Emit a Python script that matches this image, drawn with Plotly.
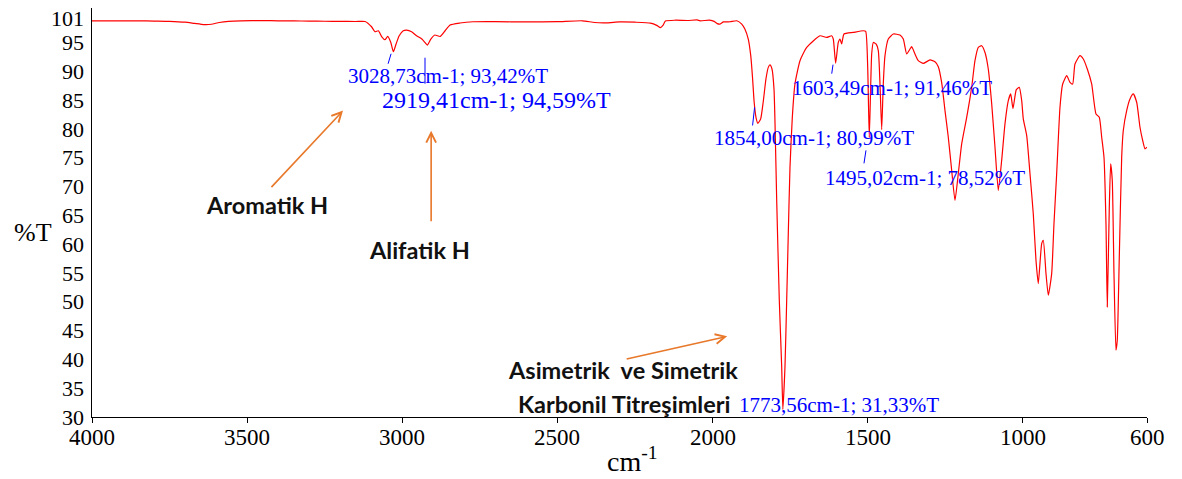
import plotly.graph_objects as go

# FT-IR spectrum, wavenumber (cm-1) vs transmittance (%T)
wavenumber = [
    4000, 3950, 3900, 3850, 3800, 3750, 3700, 3670, 3640, 3615, 3590, 3560, 3520,
    3450, 3400, 3350, 3300, 3250, 3200, 3150, 3120, 3099, 3088, 3077, 3066, 3056,
    3047, 3037, 3020, 3010, 2997, 2986, 2970, 2954, 2937, 2927, 2908, 2895, 2878,
    2862, 2846, 2814, 2772, 2700, 2600, 2500, 2420, 2380, 2340, 2300, 2250, 2200,
    2180, 2168, 2160, 2152, 2120, 2080, 2050, 2040, 2010, 1995, 1985, 1976, 1965,
    1944, 1922, 1906, 1896, 1885, 1877, 1871, 1866, 1860, 1845, 1837, 1828, 1820.5,
    1815, 1808.6, 1802.1, 1798.9, 1793.4, 1785, 1777.3, 1766.7, 1761.2, 1756,
    1750.6, 1743.1, 1734.4, 1718.3, 1696.7, 1653.9, 1632.3, 1616.2, 1611, 1594.9,
    1589.4, 1584, 1576.5, 1546.6, 1514.3, 1506.6, 1500.1, 1487.3, 1482.1, 1473.4,
    1466, 1460.5, 1455, 1449.9, 1444.4, 1433.8, 1417.6, 1396.1, 1385.4, 1374.5,
    1363.8, 1358.3, 1347.7, 1337, 1321, 1299.4, 1283.3, 1272.6, 1261.7, 1251,
    1240.4, 1229.4, 1218.8, 1208.2, 1197.2, 1181.1, 1165, 1154.4, 1143.7, 1132.8,
    1122.1, 1111.5, 1100.5, 1089.9, 1079.3, 1068.4, 1057.7, 1047, 1039.3, 1031.9,
    1021.2, 1011.6, 1003.8, 998.7, 987.7, 977.1, 966.5, 957.8, 950.4, 939.4, 934.2,
    925.5, 918.1, 907.2, 899.8, 891.1, 880.4, 871.7, 858.8, 848.2, 839.5, 832.1,
    816, 805.3, 792.4, 778.3, 764.4, 753.8, 746, 738.6, 732.2, 728, 721.5, 717.1,
    711.9, 706.4, 700, 695.8, 689.3, 681.6, 676.4, 665.5, 654.8, 644.2, 633.2,
    622.6, 613.9, 606.5, 600,
]
transmittance = [
    98.8, 98.8, 98.78, 98.8, 98.75, 98.7, 98.55, 98.35, 98.15, 98.2, 98.5, 98.7, 98.8,
    98.82, 98.8, 98.78, 98.75, 98.72, 98.7, 98.68, 98.68, 97.76, 96.9, 97.07, 96.0, 95.51,
    96.08, 95.04, 94.77, 96.2, 97.07, 97.19, 96.9, 96.2, 95.63, 95.04, 95.63, 96.33, 96.08,
    97.07, 98.06, 98.41, 98.63, 98.65, 98.6, 98.65, 98.8, 98.5, 98.45, 98.6, 98.55, 98.4,
    98.0, 97.6, 98.0, 98.75, 98.9, 98.85, 98.95, 98.8, 98.9, 98.7, 98.3, 98.23, 98.6,
    98.63, 98.8, 98.23, 97.37, 95.63, 92.74, 88.7, 84.65, 82.0, 81.77, 84.65, 88.7, 90.71,
    91.13, 90.43, 86.97, 81.18, 67.61, 50.28, 38.72, 38.72, 50.28, 61.89,
    73.33, 81.98, 87.88, 91.87, 94.18, 96.2, 95.91, 96.2, 95.63, 95.04,
    95.63, 94.77, 96.5, 96.78, 97.07, 96.95, 90.71, 93.03, 95.04, 94.77,
    93.6, 87.83, 79.91, 87.83, 92.74, 95.63, 96.5, 96.33, 95.63, 93.03,
    93.9, 94.3, 93.03, 91.87, 91.4, 92.0, 91.7, 90.83, 88.06, 83.21,
    78.58, 72.81, 67.61, 72.24, 77.44, 82.04, 87.24, 91.87, 94.18, 94.47,
    93.3, 90.43, 84.37, 76.85, 69.34, 74.54, 80.9, 84.94, 86.1, 83.55,
    86.85, 87.24, 84.94, 81.77, 78.87, 72.24, 65.3, 57.21, 53.17, 60.1, 60.68,
    54.9, 51.14, 54.9, 63.57, 72.24, 83.78, 87.83, 89.27, 88.11, 87.83, 91.3,
    92.74, 92.17, 90.43, 87.83, 82.63, 82.04, 78.58, 75.11, 63.57, 49.12, 66.45, 73.97,
    71.07, 54.9, 41.61, 43.34, 57.78, 75.11, 79.74, 83.21, 85.23, 86.1, 84.65,
    80.31, 78.01, 76.57, 76.85,
]

# Peaks picked and labelled on the spectrum
peak_wn = [3028.73, 2919.41, 1854.00, 1773.56, 1603.49, 1495.02]
peak_t = [93.42, 94.59, 80.99, 31.33, 91.46, 78.52]

# label placement (pixel offsets from the peak) and font size
label_dx = [-47, -47, -46, -46, -46, -46]
label_dy = [-24, -55, -15, 4, -25, -40]
label_size = [21, 24, 21, 21, 21, 21]
# short leader ticks next to each peak: (x0, y0, x1, y1) in pixels
leader = [(-2.3, -2, -5.3, -12), (-2.3, -12.7, -2.3, -38.7), (-3.3, 15.9, -5.3, -2.1),
          None, (-2.6, -1.6, -3.9, -10.6), (-3.3, -12.8, -5.3, -25.8)]

x_ticks = [4000, 3500, 3000, 2500, 2000, 1500, 1000, 600]
y_ticks = [30, 35, 40, 45, 50, 55, 60, 65, 70, 75, 80, 85, 90, 95, 101]

pts = sorted(zip(wavenumber + peak_wn, transmittance + peak_t), key=lambda p: -p[0])
xs = [p[0] for p in pts]
ys = [p[1] for p in pts]

SERIF = "Liberation Serif"
SANS = "Lato"
ORANGE = "#E8782A"

fig = go.Figure()
fig.add_trace(go.Scatter(
    x=xs, y=ys, mode="lines",
    line=dict(color="#FF0000", width=1.2, shape="spline", smoothing=0.5),
    hoverinfo="skip", showlegend=False,
))


def comma(v):
    return f"{v:.2f}".replace(".", ",")


for w, t, dx, dy, fs, ld in zip(peak_wn, peak_t, label_dx, label_dy, label_size, leader):
    fig.add_annotation(
        x=w, y=t, xref="x", yref="y", showarrow=False,
        text=f"{comma(w)}cm-1; {comma(t)}%T",
        xanchor="left", yanchor="middle", xshift=dx, yshift=dy,
        font=dict(family=SERIF, size=fs, color="#0000FF"),
    )
    if ld is not None:
        fig.add_shape(
            type="line", xref="x", yref="y", xsizemode="pixel", ysizemode="pixel",
            xanchor=w, yanchor=t, x0=ld[0], y0=ld[1], x1=ld[2], y1=ld[3],
            line=dict(color="#0000FF", width=1),
        )

# band assignments: caption position (paper) and arrow (head in data units, tail offset in px)
captions = [
    ("<b>Aromatik H</b>", 0.1659, 0.5177),
    ("<b>Alifatik H</b>", 0.310, 0.4078),
    ("<b>Asimetrik\u00a0 ve Simetrik</b>", 0.5033, 0.1148),
    ("<b>Karbonil Titreşimleri</b>", 0.5043, 0.0317),
]
for txt, tx, ty in captions:
    fig.add_annotation(x=tx, y=ty, xref="paper", yref="paper", text=txt, showarrow=False,
                       font=dict(family=SANS, size=23.5, color="#111111"),
                       xanchor="center", yanchor="middle")

arrows = [(3191, 83.2, -73, 78), (2907, 79.7, 0, 92), (1953, 44.0, -102, 23)]
for hx, hy, ax, ay in arrows:
    fig.add_annotation(x=hx, y=hy, xref="x", yref="y", text="", showarrow=True,
                       ax=ax, ay=ay, arrowhead=5, arrowsize=1.2, arrowwidth=1.6,
                       arrowcolor=ORANGE, standoff=0)

# serif tick labels, placed on the axis scales
for v in x_ticks:
    fig.add_annotation(x=v, y=0, xref="x", yref="paper", text=str(v), showarrow=False,
                       xanchor="center", yanchor="middle", yshift=-20,
                       font=dict(family=SERIF, size=23, color="#000"))
for v in y_ticks:
    top = v == y_ticks[-1]
    fig.add_annotation(x=0, y=v, xref="paper", yref="y", text=str(v), showarrow=False,
                       xanchor="right", yanchor="top" if top else "middle",
                       xshift=-6, yshift=4 if top else 0,
                       font=dict(family=SERIF, size=22, color="#000"))

# axis titles
fig.add_annotation(x=-0.056, y=0.452, xref="paper", yref="paper", text="%T",
                   showarrow=False, xanchor="center", yanchor="middle",
                   font=dict(family=SERIF, size=26, color="#000"))
fig.add_annotation(x=0.512, y=-0.105, xref="paper", yref="paper",
                   text="cm<sup>-1</sup>", showarrow=False, xanchor="center", yanchor="middle",
                   font=dict(family=SERIF, size=28, color="#000"))

fig.update_layout(
    template="none",
    width=1182, height=479,
    margin=dict(l=92, r=35, t=7.5, b=62),
    plot_bgcolor="white", paper_bgcolor="white",
    font=dict(family=SERIF, color="#000"),
    showlegend=False,
    xaxis=dict(
        range=[4000, 600], tickmode="array", tickvals=x_ticks,
        ticks="outside", ticklen=5, tickcolor="#000", tickwidth=1,
        showticklabels=False,
        showline=True, linecolor="#000", linewidth=1.3,
        showgrid=False, zeroline=False,
    ),
    yaxis=dict(
        range=[30, 101.02], tickmode="array", tickvals=y_ticks,
        ticks="", showticklabels=False,
        showline=True, linecolor="#000", linewidth=1.3,
        showgrid=False, zeroline=False,
    ),
)

fig.write_html("out.html")
